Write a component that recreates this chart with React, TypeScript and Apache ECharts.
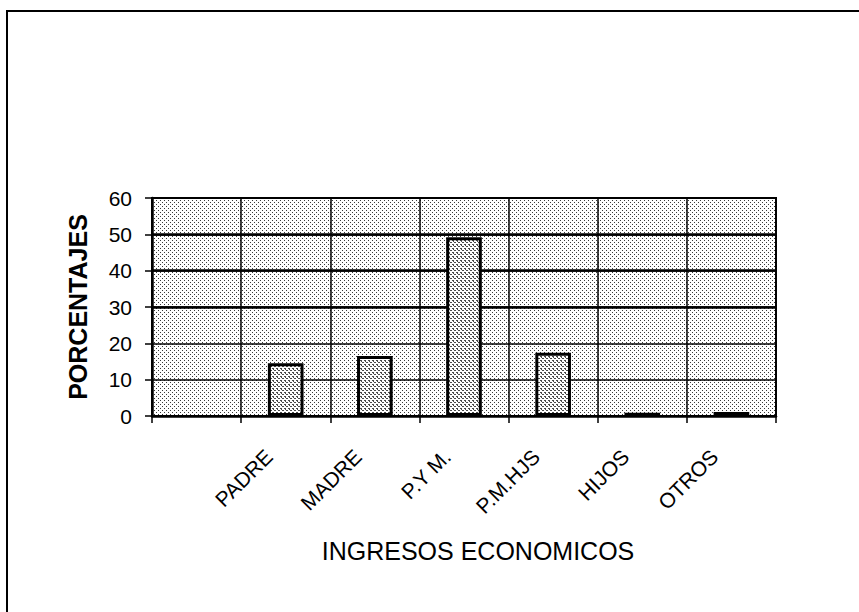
import React, { useEffect, useRef } from 'react';
import * as echarts from 'echarts';

const categories: string[] = ['', 'PADRE', 'MADRE', 'P.Y M.', 'P.M.HJS', 'HIJOS', 'OTROS'];
const percentages: (number | null)[] = [null, 14.5, 16.5, 49.2, 17.4, 0.9, 1.1];
const yMin = 0;
const yMax = 60;
const yStep = 10;
const heavyGridValues: number[] = [30, 40, 50];
const xTitle = 'INGRESOS ECONOMICOS';
const yTitle = 'PORCENTAJES';

const FONT = '"Liberation Sans", Arial, sans-serif';

function makePattern(size: number, dots: number[][], color: string): HTMLCanvasElement {
  const c = document.createElement('canvas');
  c.width = size;
  c.height = size;
  const ctx = c.getContext('2d')!;
  ctx.fillStyle = '#ffffff';
  ctx.fillRect(0, 0, size, size);
  ctx.fillStyle = color;
  dots.forEach(([x, y]) => ctx.fillRect(x, y, 1, 1));
  return c;
}

export default function App() {
  const ref = useRef<HTMLDivElement>(null);

  useEffect(() => {
    if (!ref.current) return;
    const chart = echarts.init(ref.current, null, { renderer: 'svg' });

    const bgCanvas = makePattern(4, [[0, 0], [2, 2]], '#3a3a3a');
    const barCanvas = makePattern(4, [[0, 0], [2, 2], [1, 0], [1, 1], [3, 2]], '#4a4a4a');

    const option: any = {
      animation: false,
      backgroundColor: '#ffffff',
      textStyle: { fontFamily: FONT },
      graphic: [
        {
          type: 'rect',
          shape: { x: 7, y: 11, width: 900, height: 700 },
          style: { fill: 'none', stroke: '#000', lineWidth: 2 },
          silent: true,
        },
      ],
      grid: {
        left: 152,
        top: 198,
        width: 624,
        height: 218,
        show: true,
        backgroundColor: { image: bgCanvas, repeat: 'repeat' },
        borderColor: '#000',
        borderWidth: 2,
      },
      xAxis: {
        type: 'category',
        data: categories,
        boundaryGap: true,
        name: xTitle,
        nameLocation: 'middle',
        nameGap: 122,
        nameTextStyle: {
          fontSize: 25,
          color: '#000',
          fontFamily: FONT,
          padding: [0, 0, 0, 28],
        },
        axisLine: { show: true, lineStyle: { color: '#000', width: 2.5 } },
        axisTick: { show: true, inside: false, length: 7, alignWithLabel: false, lineStyle: { color: '#000', width: 1.5 } },
        axisLabel: {
          interval: 0,
          rotate: 45,
          margin: 20,
          fontSize: 21,
          color: '#000',
          fontFamily: FONT,
          padding: [0, 24, 0, 0],
        },
        splitLine: { show: true, lineStyle: { color: '#000', width: 1.5 } },
      },
      yAxis: {
        type: 'value',
        min: yMin,
        max: yMax,
        interval: yStep,
        name: yTitle,
        nameLocation: 'middle',
        nameRotate: 90,
        nameGap: 62,
        nameTextStyle: {
          fontSize: 25,
          fontWeight: 'bold',
          color: '#000',
          fontFamily: FONT,
        },
        axisLine: { show: true, lineStyle: { color: '#000', width: 2.5 } },
        axisTick: { show: true, inside: false, length: 7, lineStyle: { color: '#000', width: 1.5 } },
        axisLabel: { margin: 20, fontSize: 21, color: '#000', fontFamily: FONT },
        splitLine: { show: true, lineStyle: { color: '#000', width: 1.5 } },
      },
      series: [
        {
          type: 'bar',
          data: percentages.map((v) => (v === null ? '-' : v)),
          barWidth: '40%',
          z: 3,
          itemStyle: {
            color: { image: barCanvas, repeat: 'repeat' },
            borderColor: '#000',
            borderWidth: 3,
          },
          markLine: {
            silent: true,
            symbol: 'none',
            label: { show: false },
            z: 2,
            lineStyle: { color: '#000', width: 2.5, type: 'solid' },
            data: heavyGridValues.map((v) => ({ yAxis: v })),
          },
        },
      ],
    };

    chart.setOption(option);
    return () => chart.dispose();
  }, []);

  return (
    <div
      ref={ref}
      style={{ position: 'fixed', left: 0, top: 0, width: 859, height: 612, background: '#fff' }}
    />
  );
}
